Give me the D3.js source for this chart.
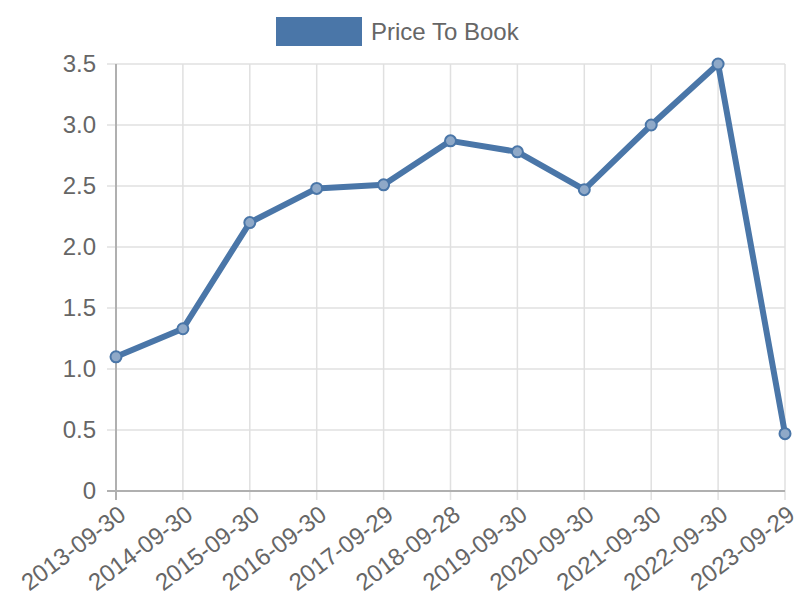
<!DOCTYPE html>
<html><head><meta charset="utf-8">
<script src="https://cdn.jsdelivr.net/npm/d3@7"></script>
<style>body{margin:0;background:#fff;font-family:"Liberation Sans",Arial,sans-serif;}</style>
</head><body><svg id="c" width="800" height="600"></svg>
<script>
const categories = ["2013-09-30","2014-09-30","2015-09-30","2016-09-30","2017-09-29","2018-09-28","2019-09-30","2020-09-30","2021-09-30","2022-09-30","2023-09-29"];
const values = [1.10,1.33,2.20,2.48,2.51,2.87,2.78,2.47,3.00,3.50,0.47];
const yTicks = [0,0.5,1.0,1.5,2.0,2.5,3.0,3.5];
const seriesName = "Price To Book";

const svg = d3.select("#c");
const L=116, R=785, T=64, B=491;
const color="#4a76a8";
const x = d3.scalePoint().domain(categories).range([L,R]);
const y = d3.scaleLinear().domain([0,3.5]).range([B,T]);

// grid
const g = svg.append("g");
g.selectAll(".hg").data(yTicks).join("line")
 .attr("x1",L-9).attr("x2",R).attr("y1",d=>y(d)).attr("y2",d=>y(d))
 .attr("stroke","#e0e0e0").attr("stroke-width",1.5);
g.selectAll(".vg").data(categories).join("line")
 .attr("x1",d=>x(d)).attr("x2",d=>x(d)).attr("y1",T).attr("y2",B+9)
 .attr("stroke","#e0e0e0").attr("stroke-width",1.5);
// axis lines on top
svg.append("line").attr("x1",L-9).attr("x2",R).attr("y1",B).attr("y2",B).attr("stroke","#b0b0b0").attr("stroke-width",2);
svg.append("line").attr("x1",L).attr("x2",L).attr("y1",T).attr("y2",B+9).attr("stroke","#b0b0b0").attr("stroke-width",2);

// y labels
svg.selectAll(".yl").data(yTicks).join("text")
 .attr("x",L-20).attr("y",d=>y(d)).attr("dy","0.35em").attr("text-anchor","end")
 .attr("font-size",24).attr("fill","#666")
 .text(d=>d===0?"0":d.toFixed(1));
// x labels
svg.selectAll(".xl").data(categories).join("text")
 .attr("transform",d=>`translate(${x(d)+1},${B+13}) rotate(-37)`)
 .attr("text-anchor","end").attr("dy","0.72em")
 .attr("font-size",24).attr("fill","#666").text(d=>d);

// line
const line = d3.line().x((d,i)=>x(categories[i])).y(d=>y(d));
svg.append("path").datum(values).attr("d",line).attr("fill","none")
 .attr("stroke",color).attr("stroke-width",6).attr("stroke-linejoin","round");
svg.selectAll(".pt").data(values).join("circle")
 .attr("cx",(d,i)=>x(categories[i])).attr("cy",d=>y(d)).attr("r",5.5)
 .attr("fill","#8fa9c8").attr("stroke",color).attr("stroke-width",2);

// legend
svg.append("rect").attr("x",276).attr("y",17).attr("width",86).attr("height",29).attr("fill",color);
svg.append("text").attr("x",371).attr("y",32).attr("dy","0.35em").attr("font-size",24).attr("fill","#666").text(seriesName);
</script></body></html>
